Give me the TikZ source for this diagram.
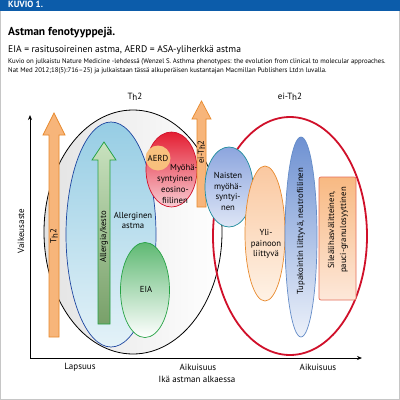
\documentclass[tikz,border=0pt]{standalone}
\usepackage{fontspec}
\setmainfont{PT Sans}
\usetikzlibrary{arrows.meta}
\definecolor{headblue}{RGB}{12,92,170}
\definecolor{orfill}{RGB}{247,181,122}
\definecolor{orline}{RGB}{232,137,44}
\definecolor{grline}{RGB}{37,162,68}
\definecolor{bluline}{RGB}{30,70,160}
\definecolor{eired}{RGB}{208,16,42}
\definecolor{teal1}{RGB}{30,140,156}
\definecolor{tupline}{RGB}{100,140,200}
\definecolor{sileline}{RGB}{230,110,90}
\definecolor{aerdfill}{RGB}{248,192,125}
\definecolor{allTop}{RGB}{150,205,228}
\definecolor{allBot}{RGB}{228,242,248}
\definecolor{grTop}{RGB}{200,225,190}
\definecolor{grBot}{RGB}{120,160,105}
\definecolor{eiaTop}{RGB}{95,185,115}
\definecolor{eoTop}{RGB}{228,30,50}
\definecolor{eoBot}{RGB}{248,205,212}
\definecolor{naTop}{RGB}{140,165,222}
\definecolor{naBot}{RGB}{222,230,246}
\definecolor{yTop}{RGB}{250,200,160}
\definecolor{yBot}{RGB}{254,242,230}
\definecolor{tTop}{RGB}{110,145,210}
\definecolor{tBot}{RGB}{236,241,250}
\definecolor{sTop}{RGB}{248,185,130}
\definecolor{sBot}{RGB}{253,232,218}
\newcommand{\thtwo}{T\kern-0.03em\raisebox{-0.3ex}{h}2}
\tikzset{
  lbl/.style={font=\fontsize{8.7}{10}\selectfont, align=center, inner sep=0pt},
  blockarrow/.style={line width=0.7pt},
}
\begin{document}
\begin{tikzpicture}[x=1pt,y=-1pt]
\useasboundingbox (0,0) rectangle (400,400);
\fill[white] (0,0) rectangle (400,400);
\draw[gray!45, line width=0.8pt] (0.6,0) -- (0.6,399.4) -- (399.4,399.4) -- (399.4,0);
\fill[headblue] (0,0) rectangle (400,11);
\node[anchor=west, text=white, font=\bfseries\fontsize{9}{9}\selectfont, inner sep=0pt] (kuvio) at (8,4) {KUVIO 1.};
% header texts
\node[anchor=west, inner sep=0pt, font=\bfseries\fontsize{11.5}{12}\selectfont] (title) at (8,33) {Astman fenotyyppejä.};
\node[anchor=west, inner sep=0pt, font=\fontsize{9.6}{10}\selectfont] (sub) at (8,50) {EIA = rasitusoireinen astma, AERD = ASA-yliherkkä astma};
\node[anchor=west, inner sep=0pt, font=\fontsize{6.8}{7}\selectfont] (ref1) at (8,62) {Kuvio on julkaistu Nature Medicine -lehdessä (Wenzel S. Asthma phenotypes: the evolution from clinical to molecular approaches.};
\node[anchor=west, inner sep=0pt, font=\fontsize{6.8}{7}\selectfont] (ref2) at (8,71) {Nat Med 2012;18(5):716–25) ja julkaistaan tässä alkuperäisen kustantajan Macmillan Publishers Ltd:n luvalla.};
% Th2 big ellipse
\draw[black, line width=0.8pt, left color=gray!22, right color=white] (133,232) ellipse [x radius=89, y radius=122];
\node[lbl, font=\fontsize{9}{10}\selectfont] (th2lbl) at (135,97) {\thtwo};
% ei-Th2 big ellipse
\draw[eired, line width=1.8pt] (290,236) ellipse [x radius=77, y radius=119];
\node[lbl, font=\fontsize{9}{10}\selectfont] (eith2lbl) at (290,97) {ei-\thtwo};
% allergic ellipse
\draw[bluline, line width=0.7pt, top color=allTop, bottom color=allBot] (111,234.5) ellipse [x radius=45, y radius=112.5];
\node[lbl] (allerg) at (133,220) {Allerginen\\astma};
% Th2 orange arrow
\draw[orline, fill=orfill, blockarrow] (49,337) -- (49,135) -- (43,135) -- (54,113) -- (65,135) -- (59,135) -- (59,337) -- cycle;
\node[lbl, rotate=90] (th2arr) at (54,236) {\thtwo};
% green arrow
\draw[grline, blockarrow, top color=grTop, bottom color=grBot] (98,324) -- (98,160) -- (92,160) -- (104,142) -- (116,160) -- (110,160) -- (110,324) -- cycle;
\node[lbl, rotate=90] (allkesto) at (104,237) {Allergia/kesto};
% EIA
\draw[grline, line width=0.7pt, top color=eiaTop, middle color=white, bottom color=white] (145,290) ellipse [x radius=24.5, y radius=47.5];
\node[lbl] (eia) at (146,289) {EIA};
% eosinophilic
\draw[eired, line width=0.7pt, top color=eoTop, bottom color=eoBot] (171.5,169.5) ellipse [x radius=25.5, y radius=37.5];
\fill[aerdfill] (158,158) circle [radius=12.5];
\node[lbl] (aerd) at (158,158) {AERD};
\node[lbl, font=\fontsize{8.7}{11}\selectfont] (myoha) at (175,184) {\hspace*{18pt}Myöhä-\\syntyinen\\eosino-\\fiilinen};
% ei-Th2 arrow
\draw[orline, fill=orfill, blockarrow] (197,207) -- (197,119) -- (192,119) -- (201.5,101) -- (211,119) -- (206,119) -- (206,207) -- cycle;
\node[lbl, rotate=90] (eith2arr) at (201.5,152) {ei-\thtwo};
% Naisten
\draw[teal1, line width=0.7pt, top color=naTop, bottom color=naBot] (229,187) ellipse [x radius=24, y radius=40];
\node[lbl, font=\fontsize{8.7}{10.8}\selectfont] (naisten) at (228,191.5) {Naisten\\myöhä-\\syntyi-\\nen};
% Yli-painoon
\draw[orline, line width=0.7pt, top color=yTop, bottom color=yBot] (265,233.5) ellipse [x radius=20, y radius=67.5];
\node[lbl, font=\fontsize{8.7}{10.8}\selectfont] (yli) at (266,244) {Yli-\\painoon\\liittyvä};
% Tupakointi
\draw[tupline, line width=0.7pt, top color=tTop, bottom color=tBot] (301,237) ellipse [x radius=16, y radius=100];
\node[lbl, rotate=90] (tupa) at (301,231) {Tupakointin liittyvä, neutrofiilinen};
% Sileälihas
\draw[sileline, line width=0.7pt, rounded corners=2pt, top color=sTop, bottom color=sBot] (319,177) rectangle (356,300);
\node[lbl, rotate=90, font=\fontsize{8.7}{12}\selectfont] (sile) at (338,230) {Sileälihasvälitteinen,\\pauci-granulosyyttinen};
% axes
\coordinate (origin) at (30,358);
\coordinate (xend) at (362,358);
\coordinate (yend) at (30,115);
\draw[line width=0.8pt, -{Stealth[length=5pt,width=4pt]}] (origin) -- (xend);
\draw[line width=0.8pt, -{Stealth[length=5pt,width=4pt]}] (origin) -- (yend);
\node[lbl, rotate=90, font=\fontsize{9}{10}\selectfont] (vaik) at (21,231) {Vaikeusaste};
\node[lbl, font=\fontsize{9}{10}\selectfont] (laps) at (80,367) {Lapsuus};
\node[lbl, font=\fontsize{9}{10}\selectfont] (aik1) at (198,367) {Aikuisuus};
\node[lbl, font=\fontsize{9}{10}\selectfont] (aik2) at (318,367) {Aikuisuus};
\node[lbl, font=\fontsize{9}{10}\selectfont] (ika) at (197,379) {Ikä astman alkaessa};
\end{tikzpicture}
\end{document}
